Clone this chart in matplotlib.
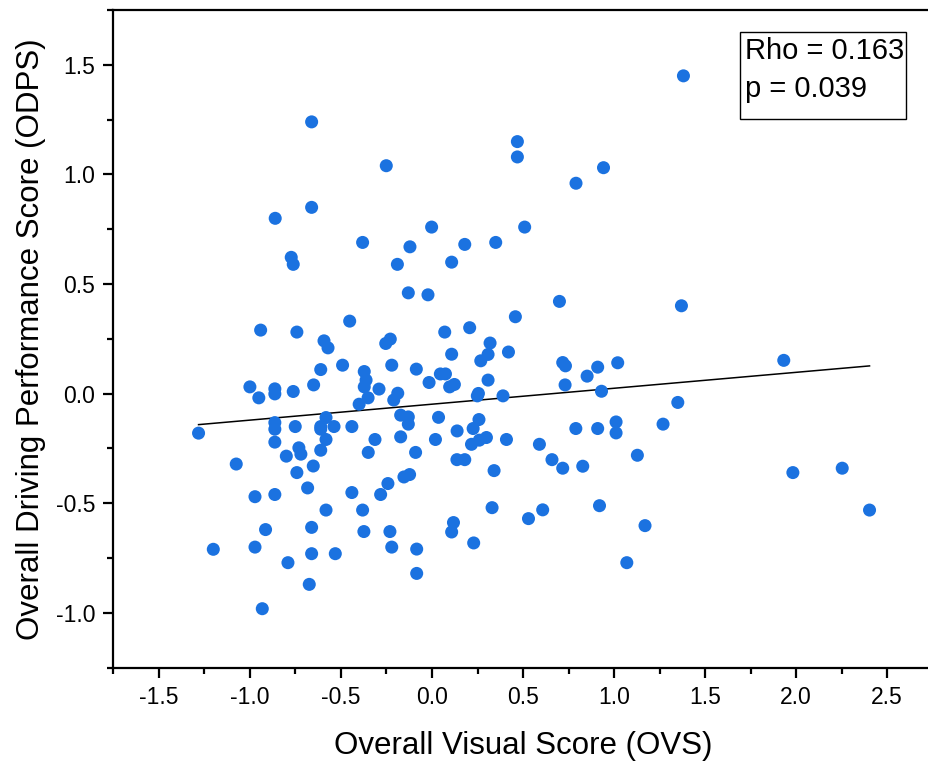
import matplotlib
matplotlib.use("Agg")
import matplotlib.pyplot as plt
from matplotlib.patches import Rectangle
from matplotlib.ticker import MultipleLocator
import numpy as np

plt.rcParams['font.family'] = ['Liberation Sans', 'DejaVu Sans']

ovs = [
    -0.661, -0.251, -0.661, -0.861, -0.381, -0.121,
    1.381, 0.469, 0.469, 0.791, 0.942, -0.002, 0.509, 0.180, 0.350,
    -0.773, -0.762, -0.190, -0.130, -0.941, -0.742, -0.452, -0.593, -0.571,
    -0.254, -0.229, -0.221, -0.086, -0.611, -0.491, -1.000, -0.951, -0.863,
    -0.863, -0.762, -0.650, -0.372, -0.362, -0.372, -0.291, -0.351, -0.400,
    -0.188, -0.210, -1.282, -0.863, -0.863, -0.863, -0.751, -0.582, -0.611,
    -0.611, -0.538, -0.582, -0.440, -0.313, -0.172, -0.130, -0.130, -0.172,
    -0.611, -0.800, -0.731, -0.720, -0.350, -0.090,
    -1.075, -0.742, -0.652, -0.683, -0.972, -0.863, -0.440, -0.242, -0.282,
    -0.154, -0.123, -0.582, -0.381, -0.914, -0.661, -0.374, -0.231, -0.221,
    -0.084, -0.084, -1.201, -0.972, -0.661, -0.531, -0.791, -0.674, -0.932,
    0.108, -0.022, 0.700, 1.370, 0.458, 0.070, 0.207, 0.319, 0.308, 0.268,
    0.420, 0.108, 0.046, 0.074, -0.016, 0.097, 0.123, 0.308, 0.255, 0.249,
    0.390, 0.718, 0.733, 0.910, 0.852, 1.020, 0.731, 0.931, 1.350, 1.269,
    1.011, 1.011, 0.910, 0.790, 1.128, 0.659, 0.590, 0.409, 0.299, 0.260,
    0.217, 0.226, 0.258, 0.138, 0.036, 0.019,
    0.137, 0.180, 0.341, 0.718, 0.828, 0.330, 0.118, 0.108, 0.229, 0.530,
    0.608, 0.920, 1.170, 1.070,
    1.982, 2.253, 2.403, 1.932,
]
odps = [
    1.240, 1.040, 0.850, 0.800, 0.690, 0.670,
    1.450, 1.150, 1.080, 0.960, 1.031, 0.760, 0.760, 0.681, 0.690,
    0.622, 0.590, 0.590, 0.460, 0.290, 0.281, 0.331, 0.241, 0.209,
    0.229, 0.249, 0.130, 0.112, 0.110, 0.130, 0.031, -0.019, 0.022,
    -0.001, 0.010, 0.040, 0.101, 0.062, 0.031, 0.021, -0.019, -0.048,
    0.002, -0.029, -0.180, -0.132, -0.162, -0.221, -0.150, -0.109, -0.150,
    -0.162, -0.150, -0.209, -0.150, -0.209, -0.098, -0.106, -0.139, -0.197,
    -0.258, -0.285, -0.247, -0.276, -0.268, -0.268,
    -0.321, -0.360, -0.330, -0.430, -0.470, -0.460, -0.451, -0.410, -0.460,
    -0.380, -0.369, -0.531, -0.531, -0.620, -0.610, -0.629, -0.629, -0.700,
    -0.709, -0.820, -0.710, -0.700, -0.730, -0.730, -0.771, -0.870, -0.981,
    0.600, 0.451, 0.421, 0.401, 0.351, 0.281, 0.301, 0.231, 0.179, 0.150,
    0.190, 0.180, 0.090, 0.090, 0.051, 0.031, 0.042, 0.062, 0.001, -0.010,
    -0.010, 0.142, 0.127, 0.121, 0.080, 0.141, 0.040, 0.011, -0.040, -0.139,
    -0.129, -0.179, -0.159, -0.159, -0.281, -0.301, -0.231, -0.209, -0.200,
    -0.212, -0.231, -0.159, -0.118, -0.170, -0.108, -0.209,
    -0.301, -0.301, -0.351, -0.340, -0.331, -0.520, -0.588, -0.631, -0.681, -0.570,
    -0.530, -0.511, -0.602, -0.771,
    -0.360, -0.340, -0.531, 0.152,
]

fit_intercept = -0.048
fit_slope = 0.0727
stats_lines = ["Rho = 0.163", "p = 0.039"]
x_label = "Overall Visual Score (OVS)"
y_label = "Overall Driving Performance Score (ODPS)"

fig = plt.figure(figsize=(9.29, 7.70), dpi=100)
ax = fig.add_axes([0.122, 0.1329, 0.882, 0.854])

ax.scatter(ovs, odps, s=88, color='#1b72e0', edgecolors='none', zorder=3)

xs = np.array([min(ovs), max(ovs)])
ax.plot(xs, fit_intercept + fit_slope * xs, color='black', lw=1.1, zorder=2)

ax.set_xlim(-1.75, 2.75)
ax.set_ylim(-1.25, 1.75)
ax.xaxis.set_minor_locator(MultipleLocator(0.25))
ax.yaxis.set_minor_locator(MultipleLocator(0.25))
ax.set_xticks([-1.5, -1.0, -0.5, 0.0, 0.5, 1.0, 1.5, 2.0, 2.5])
ax.set_xticklabels(['-1.5', '-1.0', '-0.5', '0.0', '0.5', '1.0', '1.5', '2.0', '2.5'])
ax.set_yticks([-1.0, -0.5, 0.0, 0.5, 1.0, 1.5])
ax.set_yticklabels(['-1.0', '-0.5', '0.0', '0.5', '1.0', '1.5'])

for sp in ax.spines.values():
    sp.set_linewidth(1.6)
ax.spines['right'].set_visible(False)
ax.tick_params(which='major', direction='out', length=7, width=1.6, labelsize=16.5, pad=6)
ax.tick_params(which='minor', direction='out', length=4, width=1.6)
ax.tick_params(top=False, right=False, which='both')

ax.set_xlabel(x_label, fontsize=22.5, labelpad=16)
ax.set_ylabel(y_label, fontsize=22.5, labelpad=7)

ax.add_patch(Rectangle((0.765, 0.835), 0.203, 0.131, transform=ax.transAxes,
                       fill=True, facecolor='white', edgecolor='black', lw=1.0, zorder=4))
ax.text(0.771, 0.925, stats_lines[0], transform=ax.transAxes, fontsize=21,
        va='baseline', ha='left', zorder=5)
ax.text(0.771, 0.868, stats_lines[1], transform=ax.transAxes, fontsize=21,
        va='baseline', ha='left', zorder=5)

fig.savefig('out.png', dpi=100)
